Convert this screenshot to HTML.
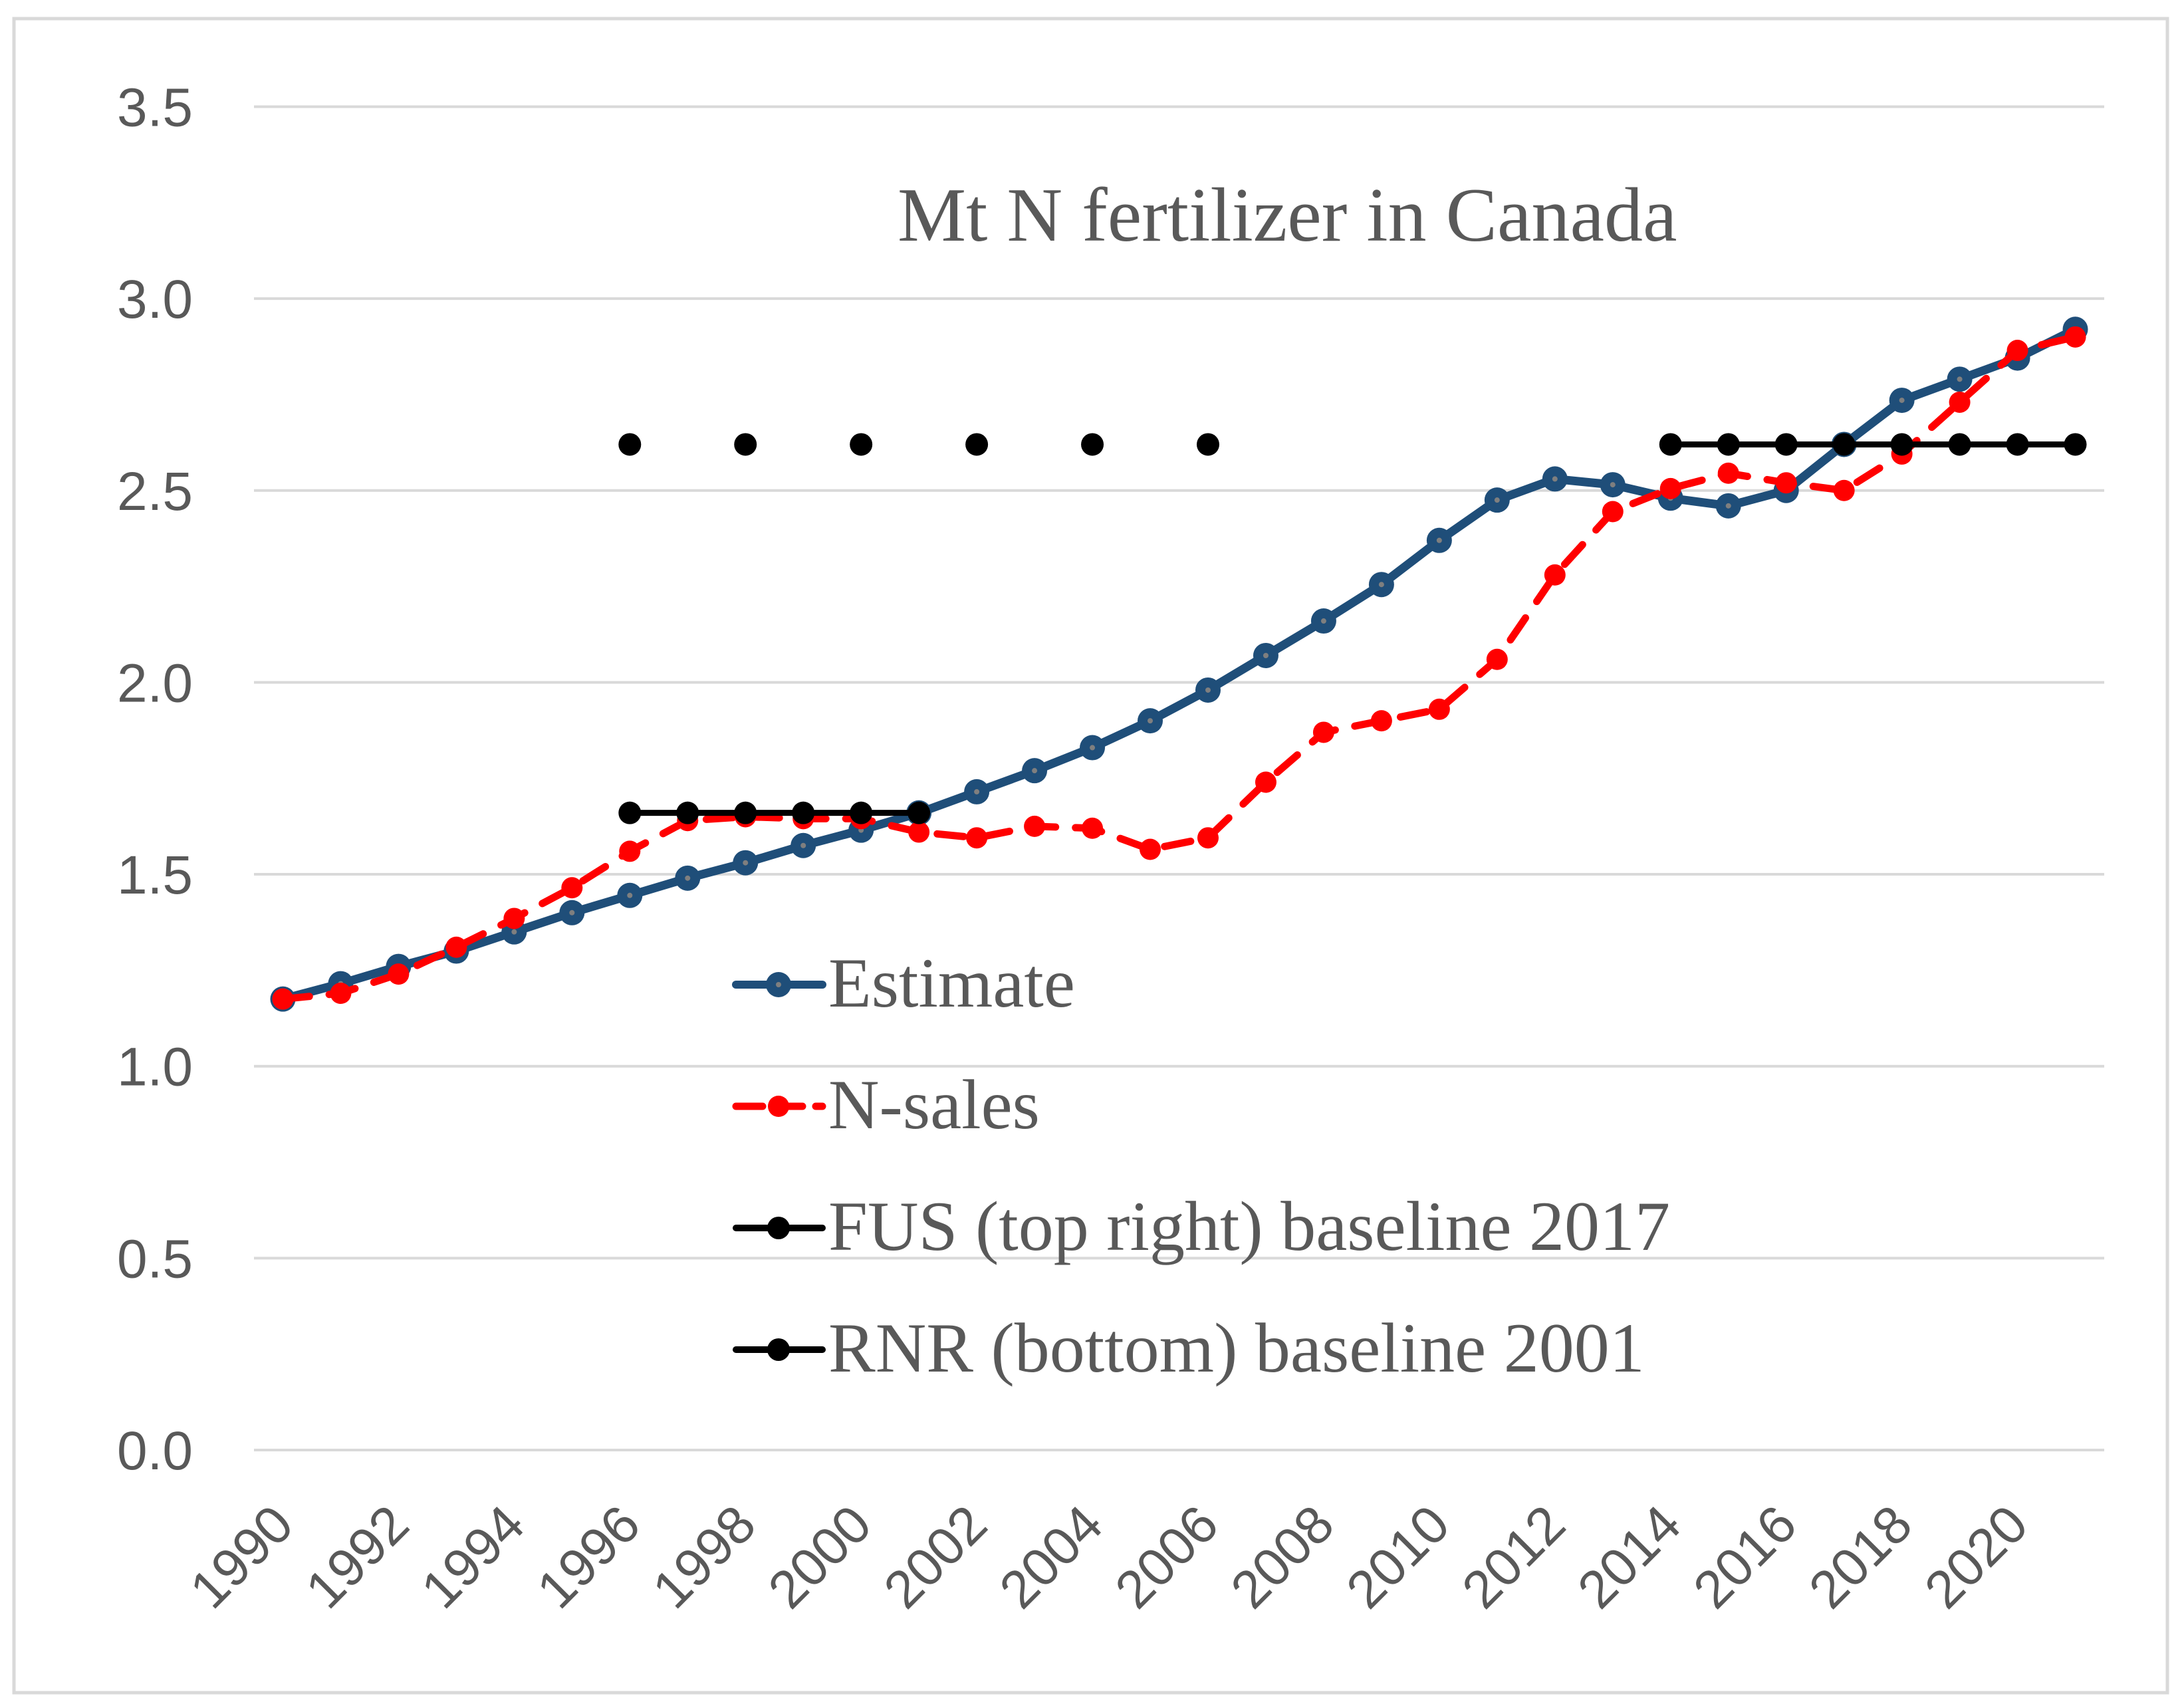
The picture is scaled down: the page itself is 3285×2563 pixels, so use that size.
<!DOCTYPE html>
<html><head><meta charset="utf-8"><style>html,body{margin:0;padding:0;background:#fff}svg{display:block}</style></head>
<body>
<svg id="chart" width="3285" height="2563" viewBox="0 0 3285 2563" xmlns="http://www.w3.org/2000/svg">
<rect x="21" y="28" width="3239" height="2518" fill="#fff" stroke="#d9d9d9" stroke-width="5"/>
<g id="grid"></g><g id="ylabels"></g><g id="xlabels"></g><g id="series"></g>
<text x="1350" y="362" font-family="Liberation Serif, serif" font-size="116" fill="#595959">Mt N fertilizer in Canada</text>
<g id="legend"></g>
</svg>
<script>
const years = [];
for (let y = 1990; y <= 2021; y++) years.push(y);
const estimate = [1.175,1.215,1.26,1.30,1.35,1.40,1.445,1.49,1.53,1.575,1.615,1.66,1.715,1.77,1.83,1.90,1.98,2.07,2.16,2.255,2.37,2.475,2.53,2.515,2.48,2.46,2.50,2.62,2.735,2.79,2.845,2.92];
const nsales = [1.175,1.19,1.24,1.31,1.385,1.465,1.56,1.64,1.65,1.645,1.645,1.61,1.595,1.625,1.62,1.565,1.595,1.74,1.87,1.90,1.93,2.06,2.28,2.445,2.505,2.545,2.52,2.50,2.595,2.73,2.865,2.90];
const fusYears = [2014,2015,2016,2017,2018,2019,2020,2021];
const fusValues = [2.62,2.62,2.62,2.62,2.62,2.62,2.62,2.62];
const dotYears = [1996,1998,2000,2002,2004,2006];
const dotValues = [2.62,2.62,2.62,2.62,2.62,2.62];
const rnrYears = [1996,1997,1998,1999,2000,2001];
const rnrValues = [1.66,1.66,1.66,1.66,1.66,1.66];
const yTicks = [0,0.5,1.0,1.5,2.0,2.5,3.0,3.5];
const yTickLabels = ["0.0","0.5","1.0","1.5","2.0","2.5","3.0","3.5"];

const NS = "http://www.w3.org/2000/svg";
const X0 = 382, X1 = 3165, Y0 = 2181, PX = 577.3;
const step = (X1 - X0) / years.length;
const xs = yr => X0 + step * (yr - years[0] + 0.5);
const ys = v => Y0 - v * PX;
function mk(tag, attrs, parent) {
  const e = document.createElementNS(NS, tag);
  for (const k in attrs) e.setAttribute(k, attrs[k]);
  parent.appendChild(e); return e;
}
const grid = document.getElementById('grid');
const yl = document.getElementById('ylabels');
yTicks.forEach((t, i) => {
  const l = mk('line', {x1: X0, x2: X1, y1: ys(t), y2: ys(t), stroke: '#d9d9d9', 'stroke-width': 4}, grid);
  
  
  const tx = mk('text', {x: 290, y: ys(t) + 29, 'text-anchor': 'end', 'font-family': 'Liberation Sans, sans-serif', 'font-size': 82, fill: '#595959'}, yl);
  tx.textContent = yTickLabels[i];
  
  
});
const xl = document.getElementById('xlabels');
years.forEach(yr => {
  if ((yr - 1990) % 2) return;
  const ax = xs(yr) + 20, ay = 2298;
  const tx = mk('text', {x: ax, y: ay, 'text-anchor': 'end', transform: `rotate(-45 ${ax} ${ay})`, 'font-family': 'Liberation Sans, sans-serif', 'font-size': 80, fill: '#595959'}, xl);
  tx.textContent = String(yr);
  
  
});
const sg = document.getElementById('series');
function series(name, xv, vals, color, lw, r, dash, line, center) {
  const g = mk('g', {}, sg);
  
  
  if (line) {
    const pts = xv.map((x, i) => xs(x) + ',' + ys(vals[i])).join(' ');
    const attrs = {points: pts, fill: 'none', stroke: color, 'stroke-width': lw, 'stroke-linejoin': 'round', 'stroke-linecap': 'round'};
    if (dash) attrs['stroke-dasharray'] = dash;
    mk('polyline', attrs, g);
  }
  xv.forEach((x, i) => {
    const c = mk('circle', {cx: xs(x), cy: ys(vals[i]), r: r, fill: color}, g);
    
    
    if (center) mk('circle', {cx: xs(x), cy: ys(vals[i]), r: 4, fill: '#7f7f7f'}, g);
  });
}
series('estimate-series', years, estimate, '#1f4e79', 13, 19, null, true, true);
series('nsales-series', years, nsales, '#ff0000', 11, 16, '40 30', true, false);
series('fus-series', fusYears, fusValues, '#000', 9, 17, null, true, false);
series('fus-dots', dotYears, dotValues, '#000', 9, 17, null, false, false);
series('rnr-series', rnrYears, rnrValues, '#000', 9, 17, null, true, false);

const lg = document.getElementById('legend');
const items = [
  ['Estimate', '#1f4e79', 12, 19, null, true],
  ['N-sales', '#ff0000', 11, 16, '40 20', false],
  ['FUS (top right) baseline 2017', '#000', 10, 17, null, false],
  ['RNR (bottom) baseline 2001', '#000', 10, 17, null, false]
];
items.forEach((it, i) => {
  const cy = 1481 + i * 183;
  const g = mk('g', {}, lg);
  
  
  const la = {x1: 1107, x2: 1237, y1: cy, y2: cy, stroke: it[1], 'stroke-width': it[2], 'stroke-linecap': 'round'};
  if (it[4]) la['stroke-dasharray'] = it[4];
  mk('line', la, g);
  mk('circle', {cx: 1171, cy: cy, r: it[3], fill: it[1]}, g);
  if (it[5]) mk('circle', {cx: 1171, cy: cy, r: 4, fill: '#7f7f7f'}, g);
  const t = mk('text', {x: 1246, y: cy + 33, 'font-family': 'Liberation Serif, serif', 'font-size': 106, fill: '#595959'}, g);
  t.textContent = it[0];
});
</script>
</body></html>
